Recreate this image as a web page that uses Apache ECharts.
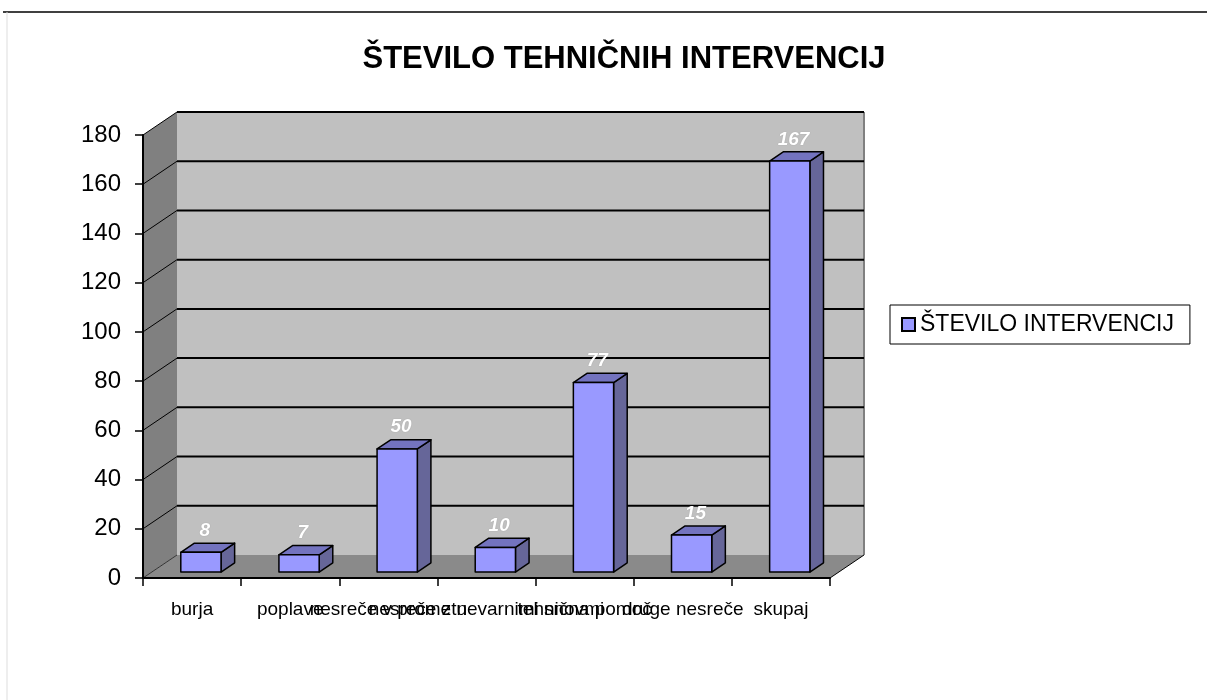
<!DOCTYPE html>
<html>
<head>
<meta charset="utf-8">
<title>Število tehničnih intervencij</title>
<script src="https://cdn.jsdelivr.net/npm/echarts@6/dist/echarts.min.js"></script>
<style>
    html, body { margin: 0; padding: 0; background: #fff; }
    #chart { width: 1207px; height: 700px; }
</style>
</head>
<body>
<div id="chart"></div>
<script>
// podatki
const categories = ['burja', 'poplave', 'nesreče v prometu', 'nesreče z nevarnimi snovmi', 'tehnična pomoč', 'druge nesreče', 'skupaj'];
const values = [8, 7, 50, 10, 77, 15, 167];
const seriesName = 'ŠTEVILO INTERVENCIJ';
const titleText = 'ŠTEVILO TEHNIČNIH INTERVENCIJ';

// 3D zamik zadnje stene
const DX = 34;
const DY = -23;
const Y_MAX = 180;
const Y_STEP = 20;

const chart = echarts.init(document.getElementById('chart'));

function renderWalls(params, api) {
    const cs = params.coordSys;
    const x0 = cs.x;
    const x1 = cs.x + cs.width;
    const y0 = cs.y;
    const y1 = cs.y + cs.height;
    const children = [
        {
            type: 'polygon',
            shape: { points: [[x0, y1], [x0, y0], [x0 + DX, y0 + DY], [x0 + DX, y1 + DY]] },
            style: { fill: '#808080' }
        },
        {
            type: 'polygon',
            shape: { points: [[x0, y1], [x1, y1], [x1 + DX, y1 + DY], [x0 + DX, y1 + DY]] },
            style: { fill: '#8a8a8a' }
        },
        {
            type: 'rect',
            shape: { x: x0 + DX, y: y0 + DY, width: cs.width, height: cs.height },
            style: { fill: '#c0c0c0' }
        },
        {
            type: 'line',
            shape: { x1: x1 + DX, y1: y0 + DY, x2: x1 + DX, y2: y1 + DY },
            style: { stroke: '#808080', lineWidth: 2 }
        },
        {
            type: 'line',
            shape: { x1: x1, y1: y1, x2: x1 + DX, y2: y1 + DY },
            style: { stroke: '#000', lineWidth: 1 }
        },
        {
            type: 'line',
            shape: { x1: x0, y1: y1, x2: x0 + DX, y2: y1 + DY },
            style: { stroke: '#333', lineWidth: 1 }
        }
    ];
    for (let v = Y_STEP; v <= Y_MAX; v += Y_STEP) {
        const y = api.coord([0, v])[1];
        children.push({
            type: 'line',
            shape: { x1: x0 + DX, y1: y + DY, x2: x1 + DX, y2: y + DY },
            style: { stroke: '#000', lineWidth: 2 }
        });
        children.push({
            type: 'line',
            shape: { x1: x0, y1: y, x2: x0 + DX, y2: y + DY },
            style: { stroke: '#000', lineWidth: 1 }
        });
    }
    return { type: 'group', children: children };
}

function renderBar(params, api) {
    const idx = api.value(0);
    const top = api.coord([idx, api.value(1)]);
    const base = api.coord([idx, 0]);
    const catW = api.size([1, 0])[0];
    const bw = catW * 0.41;
    const ox = DX * 0.26;
    const oy = DY * 0.26;
    const dx = DX * 0.4;
    const dy = DY * 0.4;
    const xl = top[0] - bw / 2 + ox;
    const xr = xl + bw;
    const yt = top[1] + oy;
    const yb = base[1] + oy;
    const edge = { stroke: '#000', lineWidth: 1.5, lineJoin: 'round' };
    return {
        type: 'group',
        children: [
            {
                type: 'polygon',
                shape: { points: [[xr, yt], [xr + dx, yt + dy], [xr + dx, yb + dy], [xr, yb]] },
                style: Object.assign({ fill: '#666699' }, edge)
            },
            {
                type: 'polygon',
                shape: { points: [[xl, yt], [xr, yt], [xr + dx, yt + dy], [xl + dx, yt + dy]] },
                style: Object.assign({ fill: '#7373bf' }, edge)
            },
            {
                type: 'rect',
                shape: { x: xl, y: yt, width: bw, height: yb - yt },
                style: Object.assign({ fill: '#9999ff' }, edge)
            },
            {
                type: 'text',
                x: top[0] + ox + dx / 2 - 3,
                y: yt + dy - 3,
                style: {
                    text: String(api.value(1)),
                    fill: '#fff',
                    font: 'italic bold 19px "Liberation Sans", Arial, sans-serif',
                    align: 'center',
                    verticalAlign: 'bottom',
                    textShadowColor: 'rgba(0,0,0,0.25)',
                    textShadowBlur: 1
                }
            }
        ]
    };
}

chart.setOption({
    backgroundColor: '#fff',
    animation: false,
    title: {
        text: titleText,
        left: 619,
        top: 39,
        textAlign: 'center',
        textStyle: {
            fontFamily: '"Liberation Sans", Arial, sans-serif',
            fontWeight: 'bold',
            fontSize: 31,
            color: '#000'
        }
    },
    legend: {
        left: 890,
        top: 305,
        orient: 'vertical',
        data: [seriesName],
        icon: 'rect',
        itemWidth: 13,
        itemHeight: 13,
        itemGap: 6,
        padding: [8, 16, 8, 11],
        borderColor: '#000',
        borderWidth: 1,
        textStyle: {
            fontFamily: '"Liberation Sans", Arial, sans-serif',
            fontSize: 23,
            color: '#000'
        }
    },
    grid: {
        left: 143,
        top: 135,
        width: 687,
        height: 443
    },
    xAxis: {
        type: 'category',
        data: categories,
        z: 5,
        axisLine: { lineStyle: { color: '#000', width: 2 } },
        axisTick: { show: true, interval: 0, length: 8, lineStyle: { color: '#000', width: 1.5 } },
        axisLabel: {
            interval: 0,
            margin: 22,
            color: '#000',
            fontSize: 19,
            fontFamily: '"Liberation Sans Narrow", "Liberation Sans", Arial, sans-serif'
        },
        splitLine: { show: false }
    },
    yAxis: {
        type: 'value',
        min: 0,
        max: Y_MAX,
        interval: Y_STEP,
        z: 5,
        axisLine: { show: true, lineStyle: { color: '#000', width: 2 } },
        axisTick: { show: true, length: 8, lineStyle: { color: '#000', width: 1.5 } },
        axisLabel: {
            margin: 22,
            color: '#000',
            fontSize: 24,
            fontFamily: '"Liberation Sans", Arial, sans-serif'
        },
        splitLine: { show: false }
    },
    graphic: [
        { type: 'line', shape: { x1: 3, y1: 12, x2: 1207, y2: 12 }, style: { stroke: '#000', lineWidth: 1.5 } },
        { type: 'line', shape: { x1: 7, y1: 12, x2: 7, y2: 700 }, style: { stroke: '#ddd', lineWidth: 1 } }
    ],
    series: [
        {
            name: 'walls',
            type: 'custom',
            z: 1,
            silent: true,
            renderItem: renderWalls,
            data: [[0, 0]],
            encode: { x: 0, y: 1 }
        },
        {
            name: seriesName,
            type: 'custom',
            z: 2,
            renderItem: renderBar,
            itemStyle: { color: '#9999ff', borderColor: '#000', borderWidth: 1 },
            data: values.map((v, i) => [i, v]),
            encode: { x: 0, y: 1 }
        }
    ]
});
</script>
</body>
</html>
